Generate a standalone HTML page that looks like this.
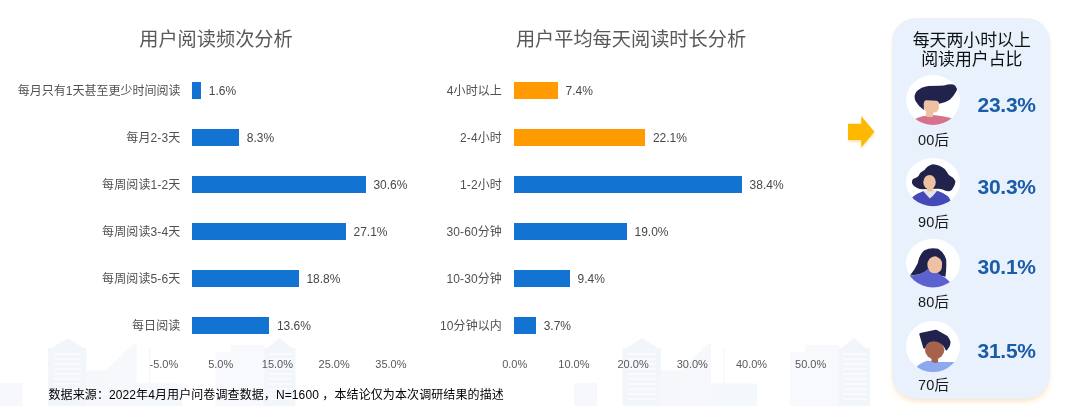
<!DOCTYPE html>
<html lang="zh-CN"><head><meta charset="utf-8"><title>用户阅读分析</title>
<style>
html,body{margin:0;padding:0;background:#fff;}
body{width:1080px;height:406px;position:relative;overflow:hidden;font-family:"Liberation Sans","Noto Sans CJK SC",sans-serif;color:#595959;}
.abs{position:absolute;}
.title{position:absolute;font-size:19.2px;line-height:24px;color:#595959;text-align:center;white-space:nowrap;}
.lab{position:absolute;letter-spacing:.12px;font-size:12px;line-height:16px;height:16px;text-align:right;white-space:nowrap;color:#505050;}
.val{position:absolute;font-size:12px;line-height:16px;height:16px;white-space:nowrap;color:#484848;}
.bar{position:absolute;height:16.5px;background:#1273d3;}
.bar.o{background:#ff9a00;}
.ax{position:absolute;font-size:11px;line-height:14px;width:60px;text-align:center;color:#595959;white-space:nowrap;}
.foot{position:absolute;left:48.5px;top:386.6px;font-size:12px;line-height:16px;color:#000;white-space:nowrap;letter-spacing:.1px;}
.panel{position:absolute;left:892px;top:18px;width:158px;height:381px;border-radius:24px;background:#e9f1fd;box-shadow:0 3px 5px -1px rgba(255,195,120,.5);}
.ptitle{position:absolute;left:892.8px;width:158px;top:30.6px;text-align:center;font-size:16.9px;line-height:19.7px;color:#101010;white-space:nowrap;}
.age{position:absolute;width:60px;left:903.5px;text-align:center;font-size:14.5px;letter-spacing:.2px;line-height:18px;color:#1a1a1a;white-space:nowrap;}
.pct{position:absolute;left:977.5px;font-size:21px;line-height:24px;font-weight:bold;color:#1a5ca8;white-space:nowrap;letter-spacing:-0.25px;}
svg{position:absolute;left:0;top:0;}
</style></head><body>
<svg id="bg" width="1080" height="406" viewBox="0 0 1080 406">
<g>
<rect x="574" y="383" width="23" height="23" fill="#f6f8fc"/>
<path d="M622.500 406V348H626L642 338L658 348H661V406Z" fill="#f2f5fa"/>
<path d="M628 354H656M628 359H656M628 364H656M628 369H656M628 374H656M628 379H656M628 384H656M628 389H656M628 394H656M628 399H656" stroke="#f8fafd" stroke-width="2" fill="none"/>
<rect x="661" y="370.500" width="19" height="36" fill="#f5f7fb"/>
<path d="M680 370.500L709 343H711V406H680Z" fill="#f6f8fc"/>
<rect x="723.500" y="348" width="1" height="36" fill="#f2f5fa"/>
<rect x="711" y="383.500" width="46" height="23" fill="#f4f7fb"/>
<rect x="790" y="352" width="49" height="54" fill="#f7f9fc"/>
<rect x="805" y="345" width="34" height="10" fill="#f7f9fc"/>
<path d="M838.600 406V348H842L854 338L866 348H870V406Z" fill="#f2f5fa"/>
<path d="M843 354H867M843 359H867M843 364H867M843 369H867M843 374H867M843 379H867M843 384H867M843 389H867M843 394H867M843 399H867" stroke="#f8fafd" stroke-width="2" fill="none"/>
</g>
<g transform="translate(-574.5,0)">
<rect x="574" y="383" width="23" height="23" fill="#f6f8fc"/>
<path d="M622.500 406V348H626L642 338L658 348H661V406Z" fill="#f2f5fa"/>
<path d="M628 354H656M628 359H656M628 364H656M628 369H656M628 374H656M628 379H656M628 384H656M628 389H656M628 394H656M628 399H656" stroke="#f8fafd" stroke-width="2" fill="none"/>
<rect x="661" y="370.500" width="19" height="36" fill="#f5f7fb"/>
<path d="M680 370.500L709 343H711V406H680Z" fill="#f6f8fc"/>
<rect x="723.500" y="348" width="1" height="36" fill="#f2f5fa"/>
<rect x="711" y="383.500" width="46" height="23" fill="#f4f7fb"/>
<rect x="790" y="352" width="49" height="54" fill="#f7f9fc"/>
<rect x="805" y="345" width="34" height="10" fill="#f7f9fc"/>
<path d="M838.600 406V348H842L854 338L866 348H870V406Z" fill="#f2f5fa"/>
<path d="M843 354H867M843 359H867M843 364H867M843 369H867M843 374H867M843 379H867M843 384H867M843 389H867M843 394H867M843 399H867" stroke="#f8fafd" stroke-width="2" fill="none"/>
</g>
</svg>
<div class="title" style="left:116px;width:200px;top:27.7px;">用户阅读频次分析</div>
<div class="title" style="left:481px;width:300px;top:27.7px;">用户平均每天阅读时长分析</div>
<div class="lab" style="letter-spacing:0;left:0;width:180.4px;top:83.1px;">每月只有1天甚至更少时间阅读</div><div class="bar" style="left:192.3px;width:9.1px;top:82.2px;"></div><div class="val" style="left:208.8px;top:83.2px;">1.6%</div>
<div class="lab" style="left:0;width:180.4px;top:130.1px;">每月2-3天</div><div class="bar" style="left:192.3px;width:47.1px;top:129.2px;"></div><div class="val" style="left:246.8px;top:130.2px;">8.3%</div>
<div class="lab" style="left:0;width:180.4px;top:177.1px;">每周阅读1-2天</div><div class="bar" style="left:192.3px;width:173.7px;top:176.2px;"></div><div class="val" style="left:373.4px;top:177.2px;">30.6%</div>
<div class="lab" style="left:0;width:180.4px;top:224.1px;">每周阅读3-4天</div><div class="bar" style="left:192.3px;width:153.8px;top:223.2px;"></div><div class="val" style="left:353.5px;top:224.2px;">27.1%</div>
<div class="lab" style="left:0;width:180.4px;top:271.1px;">每周阅读5-6天</div><div class="bar" style="left:192.3px;width:106.7px;top:270.1px;"></div><div class="val" style="left:306.4px;top:271.2px;">18.8%</div>
<div class="lab" style="left:0;width:180.4px;top:318.1px;">每日阅读</div><div class="bar" style="left:192.3px;width:77.2px;top:317.1px;"></div><div class="val" style="left:276.9px;top:318.2px;">13.6%</div>
<div class="lab" style="left:322px;width:180px;top:83.1px;">4小时以上</div><div class="bar o" style="left:514.3px;width:43.9px;top:82.2px;"></div><div class="val" style="left:565.6px;top:83.2px;">7.4%</div>
<div class="lab" style="left:322px;width:180px;top:130.1px;">2-4小时</div><div class="bar o" style="left:514.3px;width:131.2px;top:129.2px;"></div><div class="val" style="left:652.9px;top:130.2px;">22.1%</div>
<div class="lab" style="left:322px;width:180px;top:177.1px;">1-2小时</div><div class="bar b" style="left:514.3px;width:227.9px;top:176.2px;"></div><div class="val" style="left:749.6px;top:177.2px;">38.4%</div>
<div class="lab" style="left:322px;width:180px;top:224.1px;">30-60分钟</div><div class="bar b" style="left:514.3px;width:112.8px;top:223.2px;"></div><div class="val" style="left:634.5px;top:224.2px;">19.0%</div>
<div class="lab" style="left:322px;width:180px;top:271.1px;">10-30分钟</div><div class="bar b" style="left:514.3px;width:55.8px;top:270.1px;"></div><div class="val" style="left:577.5px;top:271.2px;">9.4%</div>
<div class="lab" style="left:322px;width:180px;top:318.1px;">10分钟以内</div><div class="bar b" style="left:514.3px;width:22.0px;top:317.1px;"></div><div class="val" style="left:543.7px;top:318.2px;">3.7%</div>
<div class="ax" style="left:133.9px;top:357px;">-5.0%</div><div class="ax" style="left:190.7px;top:357px;">5.0%</div><div class="ax" style="left:247.4px;top:357px;">15.0%</div><div class="ax" style="left:304.2px;top:357px;">25.0%</div><div class="ax" style="left:360.9px;top:357px;">35.0%</div>
<div class="ax" style="left:484.7px;top:357px;">0.0%</div><div class="ax" style="left:543.9px;top:357px;">10.0%</div><div class="ax" style="left:603.1px;top:357px;">20.0%</div><div class="ax" style="left:662.3px;top:357px;">30.0%</div><div class="ax" style="left:721.5px;top:357px;">40.0%</div><div class="ax" style="left:780.7px;top:357px;">50.0%</div>
<div class="foot">数据来源：2022年4月用户问卷调查数据，N=1600 ，本结论仅为本次调研结果的描述</div>
<div class="panel"></div>
<div class="ptitle">每天两小时以上<br>阅读用户占比</div>
<div class="age" style="top:131.0px;">00后</div><div class="pct" style="top:92.5px;">23.3%</div>
<div class="age" style="top:212.5px;">90后</div><div class="pct" style="top:175.2px;">30.3%</div>
<div class="age" style="top:293.2px;">80后</div><div class="pct" style="top:255.2px;">30.1%</div>
<div class="age" style="top:375.9px;">70后</div><div class="pct" style="top:339.2px;">31.5%</div>
<svg id="fg" width="1080" height="406" viewBox="0 0 1080 406">
<defs>
<filter id="ash" x="-30%" y="-30%" width="160%" height="160%"><feGaussianBlur stdDeviation="1.2"/></filter>
<clipPath id="c1"><ellipse cx="933" cy="100" rx="27" ry="25"/></clipPath>
<clipPath id="c2"><ellipse cx="933" cy="182.100" rx="27" ry="24.100"/></clipPath>
<clipPath id="c3"><ellipse cx="933" cy="263.100" rx="27" ry="24.300"/></clipPath>
<clipPath id="c4"><ellipse cx="933" cy="346.500" rx="27" ry="25.600"/></clipPath>
</defs>
<path d="M848 124.500H861.200V116.500L874.400 132L861.200 147.500V140.500H848Z" fill="#ffd27a" opacity=".6" filter="url(#ash)" transform="translate(0.5,1.5)"/>
<path d="M848 123.700H861.200V116L874.400 131.700L861.200 147.500V140H848Z" fill="#ffb800"/>
<!-- avatar 1 -->
<ellipse cx="933" cy="100" rx="27" ry="25" fill="#fff"/>
<g clip-path="url(#c1)"><g transform="translate(905,72) scale(0.13793)">
<path d="M60 350Q100 322 152 318L205 312Q270 318 350 338L350 400H60Z" fill="#d8718c"/>
<path d="M152 270H205V322Q180 332 152 322Z" fill="#eec1a2"/>
<path d="M135 205H245V262Q240 292 205 295Q160 296 135 270Z" fill="#eec1a2"/>
<path d="M137 276Q95 245 75 208Q60 170 85 140Q115 108 170 101Q215 100 250 100Q285 98 310 90Q345 84 365 97Q385 113 372 140Q355 172 325 202Q290 226 248 231Q246 210 225 208L150 205Q136 210 136 232Z" fill="#22234c"/>
</g></g>
<!-- avatar 2 -->
<ellipse cx="933" cy="182.100" rx="27" ry="24.100" fill="#fff"/>
<g clip-path="url(#c2)"><g transform="translate(905,154) scale(0.13793)">
<path d="M200 74Q255 80 288 108Q305 130 318 152Q352 168 366 198Q362 225 352 240Q345 262 322 270Q295 272 272 257Q250 250 235 252L130 256Q105 254 88 246Q62 236 52 215Q44 198 58 182Q88 172 98 160Q105 135 140 118Q160 85 200 74Z" fill="#22234c"/>
<path d="M50 315Q85 285 135 268L178 300L225 264Q285 280 315 310L335 345L335 400H50Z" fill="#4449b8"/>
<path d="M132 268L160 262L210 262L236 263L205 300L180 323L160 300Z" fill="#e4e4e8"/>
<path d="M160 240H205V268Q182 276 160 268Z" fill="#eec1a2"/>
<ellipse cx="178" cy="204" rx="45" ry="52" fill="#eec1a2"/>
</g></g>
<!-- avatar 3 -->
<ellipse cx="933" cy="263.100" rx="27" ry="24.300" fill="#fff"/>
<g clip-path="url(#c3)"><g transform="translate(905,235) scale(0.13793)">
<path d="M36 294Q72 250 92 205Q100 150 138 112Q185 88 240 100Q282 125 298 175Q303 235 293 302Q265 302 242 282L165 250Q150 268 100 286Z" fill="#22234c"/>
<path d="M20 298L100 287Q148 268 165 248L190 270L242 278Q262 300 292 310L330 345L330 400H20Z" fill="#5b62d0"/>
<ellipse cx="218" cy="216" rx="56" ry="62" fill="#eec1a2"/>
<path d="M232 156Q255 150 268 146Q284 200 280 258Q274 284 258 292Q268 245 269 205Q266 172 232 160Z" fill="#22234c"/>
</g></g>
<!-- avatar 4 -->
<ellipse cx="933" cy="346.500" rx="27" ry="25.600" fill="#fff"/>
<g clip-path="url(#c4)"><g transform="translate(905,319) scale(0.13793)">
<path d="M80 352Q110 318 160 303L195 305L240 312L370 312L370 400H80Z" fill="#8ba9ee"/>
<path d="M192 270H240V314Q216 324 192 310Z" fill="#a7624c"/>
<ellipse cx="215" cy="225" rx="70" ry="66" fill="#a7624c"/>
<path d="M110 102L222 78Q228 77 234 81L308 123Q328 150 330 165Q330 185 324 198L303 228Q298 232 292 222Q280 185 245 170Q215 158 180 168Q155 180 147 212Q140 220 132 208L104 112Q102 104 110 102Z" fill="#22234c"/>
</g></g>
</svg>
</body></html>
